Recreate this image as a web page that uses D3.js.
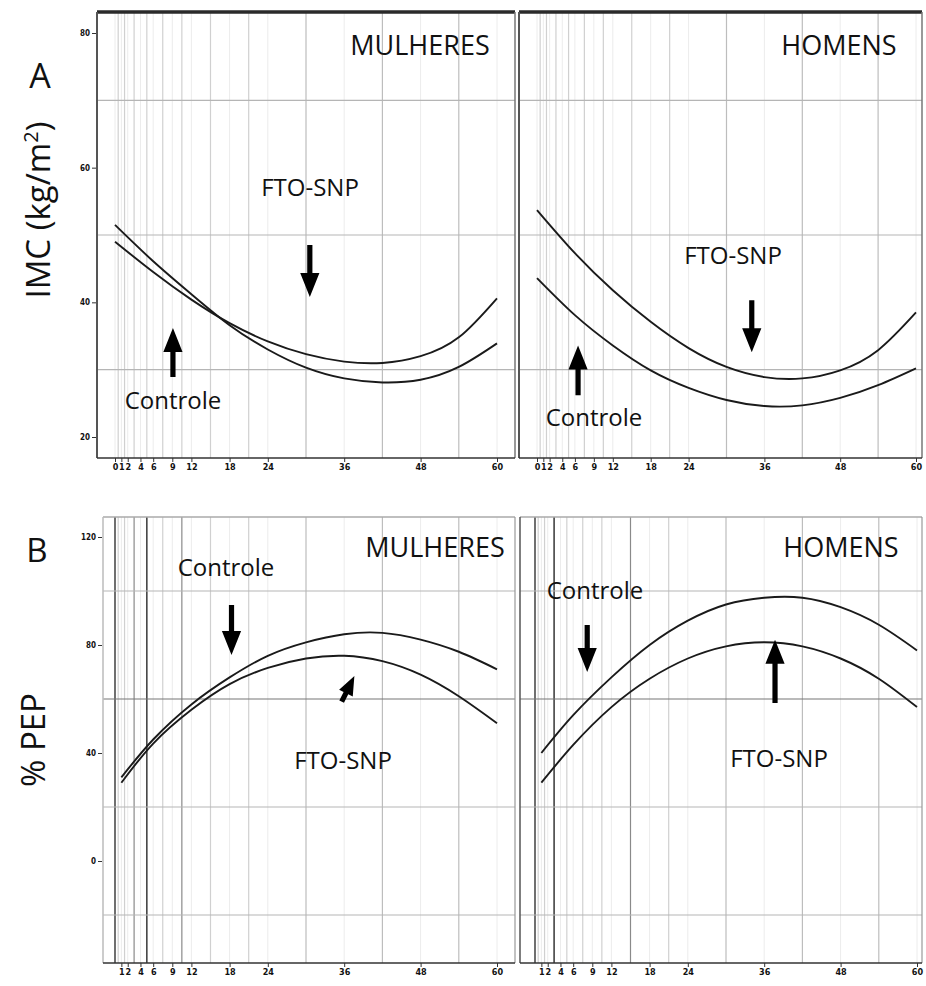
<!DOCTYPE html>
<meta charset="utf-8">
<style>
body { margin: 0; background: #fff; }
svg text { font-family: "Open Sans", "Noto Sans", sans-serif; }
.tick text { font-family: "DejaVu Sans Condensed", "DejaVu Sans", sans-serif; font-weight: bold; font-size: 9px; fill: #111; }
.tick line { stroke: #333; }
</style>
<body>
<script src="https://cdn.jsdelivr.net/npm/d3@7"></script>
<script>

// months on the x axis
var monthsA = [0, 6, 12, 18, 24, 30, 36, 42, 48, 54, 60];
var monthsB = [1, 6, 12, 18, 24, 30, 36, 42, 48, 54, 60];

// A - IMC (kg/m2)
var imcMulheresCtrl = [51.5, 46.1, 41.2, 36.6, 33.0, 30.3, 28.7, 28.1, 28.5, 30.4, 33.9];
var imcMulheresFto  = [49.0, 44.5, 40.4, 36.9, 34.2, 32.3, 31.2, 31.0, 32.0, 34.8, 40.6];
var imcHomensFto    = [53.7, 47.3, 41.8, 37.1, 33.2, 30.4, 28.9, 28.7, 29.9, 32.9, 38.5];
var imcHomensCtrl   = [43.6, 38.1, 33.6, 29.9, 27.3, 25.5, 24.6, 24.7, 25.8, 27.7, 30.2];

// B - % PEP
var pepMulheresCtrl = [31, 45, 58, 68, 76, 81, 84, 84.5, 82, 77.5, 71];
var pepMulheresFto  = [29, 43.5, 56, 65.5, 71.5, 75, 76, 74, 69, 61, 51];
var pepHomensCtrl   = [40, 54, 68, 80, 89, 95, 97.5, 97.5, 94, 87.5, 78];
var pepHomensFto    = [29, 43, 57, 67.5, 75, 79.5, 81, 79.5, 75, 67.5, 57];

// ticks
var xTicksA = [0, 1, 2, 4, 6, 9, 12, 18, 24, 36, 48, 60];
var xTicksB = [1, 2, 4, 6, 9, 12, 18, 24, 36, 48, 60];
var xGrid = [0.5, 1.5, 3, 5, 7.5, 10.5, 15, 21, 30, 42, 54];
var yTicksA = [20, 40, 60, 80];
var yGridA = [30, 50, 70];
var yTicksB = [0, 40, 80, 120];
var yGridB = [-20, 20, 60, 100];

var width = 926, height = 986;

var svg = d3.select("body").append("svg")
    .attr("width", width)
    .attr("height", height);

var yA = d3.scaleLinear().domain([20, 80]).range([437, 33]);
var yB = d3.scaleLinear().domain([0, 120]).range([861, 537]);

var panels = [
  {id: "al", x: d3.scaleLinear().domain([0, 60]).range([115, 497]), y: yA, box: [97, 12, 515, 458],
   months: monthsA, series: [imcMulheresCtrl, imcMulheresFto], ticks: xTicksA, yTicks: yTicksA, yGrid: yGridA,
   top: true, yLabels: true, darkGrid: [], midGrid: []},
  {id: "ar", x: d3.scaleLinear().domain([0, 60]).range([537, 916]), y: yA, box: [519, 12, 922, 458],
   months: monthsA, series: [imcHomensFto, imcHomensCtrl], ticks: xTicksA, yTicks: yTicksA, yGrid: yGridA,
   top: true, yLabels: false, darkGrid: [], midGrid: []},
  {id: "bl", x: d3.scaleLinear().domain([0, 60]).range([115, 497]), y: yB, box: [103, 517, 515, 963],
   months: monthsB, series: [pepMulheresCtrl, pepMulheresFto], ticks: xTicksB, yTicks: yTicksB, yGrid: yGridB,
   top: false, yLabels: true, darkGrid: [0, 5], midGrid: [3, 10.5]},
  {id: "br", x: d3.scaleLinear().domain([0, 60]).range([535, 917]), y: yB, box: [520, 517, 922, 963],
   months: monthsB, series: [pepHomensCtrl, pepHomensFto], ticks: xTicksB, yTicks: yTicksB, yGrid: yGridB,
   top: false, yLabels: false, darkGrid: [0, 3], midGrid: [15]}
];

panels.forEach(function(p) {
  var b = p.box;
  var g = svg.append("g");

  g.append("clipPath").attr("id", "clip-" + p.id)
    .append("rect").attr("x", b[0]).attr("y", b[1]).attr("width", b[2] - b[0]).attr("height", b[3] - b[1]);

  // vertical grid
  g.selectAll(".vg").data(xGrid).enter().append("line")
    .attr("x1", d => p.x(d)).attr("x2", d => p.x(d))
    .attr("y1", b[1]).attr("y2", b[3])
    .attr("stroke", d => p.midGrid.indexOf(d) >= 0 ? "#8a8a8a" : (d >= 30 ? "#bdbdbd" : "#d0d0d0"))
    .attr("stroke-width", 1.2);
  g.selectAll(".vt").data(p.ticks).enter().append("line")
    .attr("x1", d => p.x(d)).attr("x2", d => p.x(d))
    .attr("y1", b[1]).attr("y2", b[3])
    .attr("stroke", "#ececec");
  g.selectAll(".vd").data(p.darkGrid).enter().append("line")
    .attr("x1", d => p.x(d)).attr("x2", d => p.x(d))
    .attr("y1", b[1]).attr("y2", b[3])
    .attr("stroke", "#333").attr("stroke-width", 1.4);

  // horizontal grid
  g.selectAll(".hg").data(p.yGrid).enter().append("line")
    .attr("x1", b[0]).attr("x2", b[2])
    .attr("y1", d => p.y(d)).attr("y2", d => p.y(d))
    .attr("stroke", d => (!p.top && d == 60) ? "#777" : "#b5b5b5")
    .attr("stroke-width", 1.2);

  // frame
  if (p.top) {
    g.append("line").attr("x1", b[0]).attr("x2", b[2]).attr("y1", b[1]).attr("y2", b[1])
      .attr("stroke", "#2a2a2a").attr("stroke-width", 3.5);
    g.append("line").attr("x1", b[0]).attr("x2", b[0]).attr("y1", b[1]).attr("y2", b[3])
      .attr("stroke", "#555").attr("stroke-width", 2);
    g.append("line").attr("x1", b[2]).attr("x2", b[2]).attr("y1", b[1]).attr("y2", b[3])
      .attr("stroke", "#777").attr("stroke-width", 1.5);
  } else {
    g.append("line").attr("x1", b[0]).attr("x2", b[2]).attr("y1", b[1]).attr("y2", b[1])
      .attr("stroke", "#aaa").attr("stroke-width", 1.5);
    g.append("line").attr("x1", b[0]).attr("x2", b[0]).attr("y1", b[1]).attr("y2", b[3])
      .attr("stroke", p.yLabels ? "#bbb" : "#555").attr("stroke-width", 1.5);
    g.append("line").attr("x1", b[2]).attr("x2", b[2]).attr("y1", b[1]).attr("y2", b[3])
      .attr("stroke", "#999").attr("stroke-width", 1.2);
  }
  g.append("line").attr("x1", b[0]).attr("x2", b[2]).attr("y1", b[3]).attr("y2", b[3])
    .attr("stroke", "#333").attr("stroke-width", 1.6);

  // axes
  var xa = g.append("g").attr("transform", "translate(0," + b[3] + ")")
    .call(d3.axisBottom(p.x).tickValues(p.ticks).tickSize(4).tickSizeOuter(0).tickPadding(2));
  xa.select(".domain").remove();

  if (p.yLabels) {
    var ya = g.append("g").attr("transform", "translate(" + (b[0] - 1) + ",0)")
      .call(d3.axisLeft(p.y).tickValues(p.yTicks).tickSize(4).tickSizeOuter(0).tickPadding(2));
    ya.select(".domain").remove();
    ya.selectAll(".tick text").style("font-size", "8px");
  }

  // curves
  var line = d3.line()
    .x((d, i) => p.x(p.months[i]))
    .y(d => p.y(d))
    .curve(d3.curveNatural);

  g.append("g").attr("clip-path", "url(#clip-" + p.id + ")")
    .selectAll("path").data(p.series).enter().append("path")
    .attr("d", d => line(d))
    .attr("fill", "none")
    .attr("stroke", "#1a1a1a")
    .attr("stroke-width", 1.9);
});

// arrows (data coordinates: panel, month, from value, to value)
var arrows = [
  {p: 0, m0: 30.6, v0: 48.5, m1: 30.6, v1: 40.8, h: 24},
  {p: 0, m0: 9.1, v0: 28.9, m1: 9.1, v1: 36.2, h: 24},
  {p: 1, m0: 34, v0: 40.3, m1: 34, v1: 32.6, h: 24},
  {p: 1, m0: 6.5, v0: 26.2, m1: 6.5, v1: 33.6, h: 24},
  {p: 2, m0: 18.3, v0: 94.8, m1: 18.3, v1: 76.3, h: 24},
  {p: 2, m0: 35.6, v0: 59.0, m1: 37.6, v1: 68.5, h: 19},
  {p: 3, m0: 8.2, v0: 87.4, m1: 8.2, v1: 70, h: 24},
  {p: 3, m0: 37.7, v0: 58.5, m1: 37.7, v1: 81.9, h: 24}
];

arrows.forEach(function(a) {
  var p = panels[a.p];
  var x0 = p.x(a.m0), y0 = p.y(a.v0), x1 = p.x(a.m1), y1 = p.y(a.v1);
  var dx = x1 - x0, dy = y1 - y0, len = Math.sqrt(dx * dx + dy * dy);
  var ux = dx / len, uy = dy / len, nx = -uy, ny = ux;
  var head = a.h, hw = a.h * 0.4, sw = 2.6;
  var bx = x1 - ux * head, by = y1 - uy * head;
  var pts = [
    [x0 + nx * sw, y0 + ny * sw], [bx + nx * sw, by + ny * sw], [bx + nx * hw, by + ny * hw],
    [x1, y1],
    [bx - nx * hw, by - ny * hw], [bx - nx * sw, by - ny * sw], [x0 - nx * sw, y0 - ny * sw]
  ];
  svg.append("polygon").attr("points", pts.map(d => d.join(",")).join(" ")).attr("fill", "#000");
});

// text labels
var labels = [
  {t: "MULHERES", x: 420, y: 55, s: 27},
  {t: "HOMENS", x: 839, y: 55, s: 27},
  {t: "FTO-SNP", x: 310, y: 196, s: 24},
  {t: "Controle", x: 173, y: 409, s: 24},
  {t: "FTO-SNP", x: 733, y: 264, s: 24},
  {t: "Controle", x: 594, y: 426, s: 24},
  {t: "MULHERES", x: 435, y: 557, s: 27},
  {t: "HOMENS", x: 841, y: 557, s: 27},
  {t: "Controle", x: 226, y: 576, s: 24},
  {t: "FTO-SNP", x: 343, y: 769, s: 24},
  {t: "Controle", x: 595, y: 599, s: 24},
  {t: "FTO-SNP", x: 779, y: 767, s: 24}
];
svg.selectAll(".lab").data(labels).enter().append("text")
  .attr("x", d => d.x).attr("y", d => d.y)
  .attr("text-anchor", "middle")
  .style("font-size", d => d.s + "px")
  .attr("fill", "#111")
  .text(d => d.t);

svg.append("text").attr("x", 40).attr("y", 88).attr("text-anchor", "middle")
  .style("font-size", "34px").attr("fill", "#111").text("A");
svg.append("text").attr("x", 37).attr("y", 562).attr("text-anchor", "middle")
  .style("font-size", "33px").attr("fill", "#111").text("B");

var yt1 = svg.append("text").attr("transform", "translate(50,210) rotate(-90)")
  .attr("text-anchor", "middle").style("font-size", "33px").attr("fill", "#111");
yt1.append("tspan").text("IMC (kg/m");
yt1.append("tspan").attr("dy", -12).style("font-size", "20px").text("2");
yt1.append("tspan").attr("dy", 12).text(")");

svg.append("text").attr("transform", "translate(45,740) rotate(-90)")
  .attr("text-anchor", "middle").style("font-size", "33px").attr("fill", "#111").text("% PEP");

</script>
</body>
</html>
